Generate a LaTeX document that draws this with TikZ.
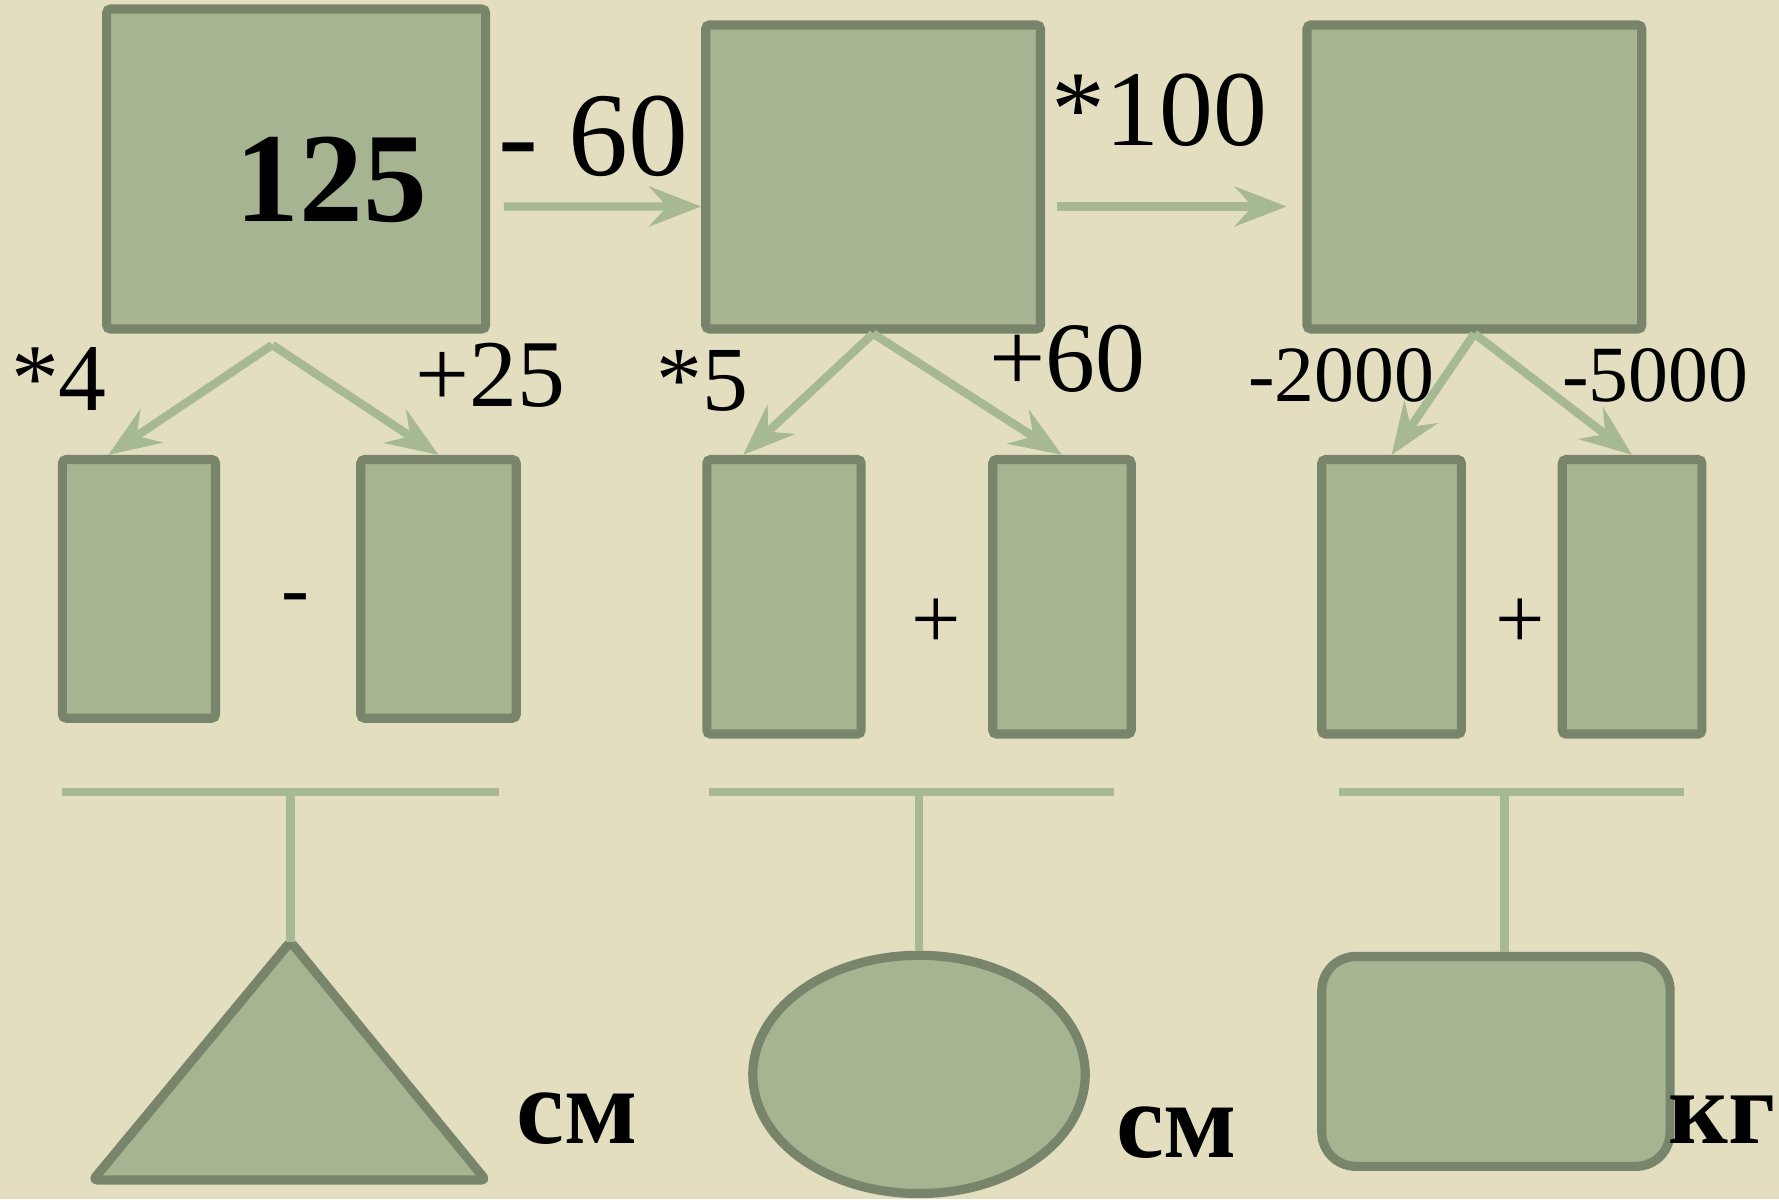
\documentclass[tikz,border=0pt]{standalone}
\usepackage{fontspec}
\setmainfont{Liberation Serif}
\usepackage{tikz}
\usetikzlibrary{calc, positioning, arrows.meta, shapes.geometric}
\usepackage{xcolor}
\definecolor{paper}{RGB}{226, 222, 191}
\definecolor{boxFill}{RGB}{166, 180, 146}
\definecolor{boxEdge}{RGB}{120, 133, 106}
\definecolor{linkCol}{RGB}{166, 184, 148}
\newcommand{\fsz}[1]{\fontsize{#1}{#1}\selectfont}

\begin{document}
\begin{tikzpicture}[>={Stealth[length=13pt, width=10pt, inset=4.5pt]},
  box/.style={draw=boxEdge, fill=boxFill, line width=2.3pt, inner sep=0pt, rounded corners=1pt},
  link/.style={->, linkCol, line width=2.1pt},
  bar/.style={linkCol, line width=2.1pt},
  lbl/.style={anchor=base, inner sep=0pt}]
  \fill[paper] (0,0) rectangle (15.68,-10.57);
  \useasboundingbox (0,0) rectangle (15.68,-10.57);

  % Top row
  \node[box, minimum width=3.34cm, minimum height=2.82cm] (b1) at (2.61,-1.49) {};
  \node[box, minimum width=2.95cm, minimum height=2.68cm] (b2) at (7.695,-1.56) {};
  \node[box, minimum width=2.95cm, minimum height=2.68cm] (b3) at (12.995,-1.56) {};
  \node[lbl] (n125) at (2.92,-1.95) {\fsz{32}\bfseries 125};

  \draw[link] ([shift={(0.12,-0.33)}]b1.east) -- ([yshift=-0.26cm]b2.west);
  \draw[link] ([shift={(0.11,-0.26)}]b2.east) -- ([shift={(-0.14,-0.26)}]b3.west);
  \node[lbl] (m60) at (5.23,-1.55) {\fsz{30}- 60};
  \node[lbl] (t100) at (10.22,-1.28) {\fsz{27}*100};

  % Second row
  \node[box, minimum width=1.35cm, minimum height=2.28cm] (a1) at (1.225,-5.19) {};
  \node[box, minimum width=1.37cm, minimum height=2.28cm] (a2) at (3.865,-5.19) {};
  \node[box, minimum width=1.36cm, minimum height=2.42cm] (c1) at (6.91,-5.26) {};
  \node[box, minimum width=1.22cm, minimum height=2.42cm] (c2) at (9.36,-5.26) {};
  \node[box, minimum width=1.23cm, minimum height=2.42cm] (d1) at (12.265,-5.26) {};
  \node[box, minimum width=1.23cm, minimum height=2.42cm] (d2) at (14.385,-5.26) {};

  \draw[link] ([shift={(-0.21,-0.10)}]b1.south) -- ([xshift=-0.27cm]a1.north);
  \draw[link] ([shift={(-0.21,-0.10)}]b1.south) -- (a2.north);
  \draw[link] (b2.south) -- ([xshift=-0.36cm]c1.north);
  \draw[link] (b2.south) -- (c2.north);
  \draw[link] (b3.south) -- (d1.north);
  \draw[link] (b3.south) -- (d2.north);

  \node[lbl] (t4) at (0.52,-3.62) {\fsz{24}*4};
  \node[lbl] (p25) at (4.32,-3.58) {\fsz{24}+25};
  \node[lbl] (t5) at (6.19,-3.62) {\fsz{23}*5};
  \node[lbl] (p60) at (9.41,-3.45) {\fsz{25}+60};
  \node[lbl] (m2000) at (11.82,-3.54) {\fsz{20}-2000};
  \node[lbl] (m5000) at (14.59,-3.54) {\fsz{20}-5000};

  \node (opA) at (2.60,-5.33) {\fsz{21}-};
  \node (opB) at (8.25,-5.50) {\fsz{22}+};
  \node (opC) at (13.40,-5.50) {\fsz{22}+};

  % Bottom row
  \coordinate (h1) at (2.56,-6.98);
  \coordinate (h2) at (8.10,-6.98);
  \coordinate (h3) at (13.26,-6.98);
  \draw[bar] (0.55,-6.98) -- (4.40,-6.98);
  \draw[bar] (6.25,-6.98) -- (9.82,-6.98);
  \draw[bar] (11.80,-6.98) -- (14.84,-6.98);

  \coordinate (tri) at (2.56,-8.30);
  \draw[box, line join=round] (tri) -- (4.28,-10.40) -- (0.82,-10.40) -- cycle;
  \node[box, ellipse, minimum width=2.93cm, minimum height=2.10cm] (oval) at (8.10,-9.47) {};
  \node[box, rounded corners=0.3cm, minimum width=3.07cm, minimum height=1.85cm] (rr) at (13.185,-9.355) {};

  \draw[bar] (h1) -- (tri);
  \draw[bar] (h2) -- (oval.north);
  \draw[bar] (h3) -- (h3 |- rr.north);

  \node[lbl] (cm1) at (5.09,-10.08) {\fsz{27}\bfseries см};
  \node[lbl] (cm2) at (10.37,-10.20) {\fsz{27}\bfseries см};
  \node[lbl] (kg) at (15.18,-10.08) {\fsz{26}\bfseries кг};
\end{tikzpicture}
\end{document}
